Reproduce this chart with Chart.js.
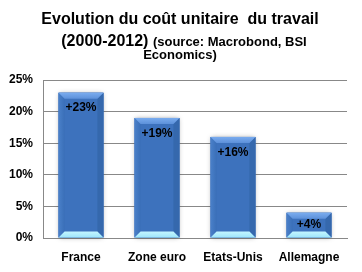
<!DOCTYPE html>
<html>
<head>
<meta charset="utf-8">
<script src="https://cdn.jsdelivr.net/npm/chart.js@4/dist/chart.umd.min.js"></script>
<style>
html,body{margin:0;padding:0;background:#fff;}
#wrap{position:relative;width:362px;height:272px;overflow:hidden;}
canvas{position:absolute;left:0;top:0;}
.t{position:absolute;left:0;width:360px;text-align:center;font-family:"Liberation Sans",Arial,sans-serif;font-weight:bold;color:#000;white-space:nowrap;}
</style>
</head>
<body>
<div id="wrap">
<canvas id="c" width="362" height="272"></canvas>
<div class="t" style="top:11px;font-size:16px;line-height:16px;">Evolution du coût unitaire&nbsp; du travail</div>
<div class="t" style="top:33px;font-size:16px;line-height:16px;left:4px;">(2000-2012) <span style="font-size:13px;">(source: Macrobond, BSI</span></div>
<div class="t" style="top:48px;font-size:13px;line-height:13px;">Economics)</div>
</div>
<script>
const categories = ["France", "Zone euro", "Etats-Unis", "Allemagne"];
const values = [23, 19, 16, 4];
const valueLabels = ["+23%", "+19%", "+16%", "+4%"];
const yTicks = [0, 5, 10, 15, 20, 25];

const FONT = '"Liberation Sans", Arial, sans-serif';

const bevelPlugin = {
  id: 'bevel',
  beforeDatasetsDraw(chart) {
    const ctx = chart.ctx;
    const meta = chart.getDatasetMeta(0);
    ctx.save();
    meta.data.forEach(el => {
      const l = el.x - el.width / 2, t = el.y, w = el.width, h = el.base - el.y;
      ctx.shadowColor = 'rgba(0,0,0,0.35)';
      ctx.shadowBlur = 5;
      ctx.fillStyle = '#3d72bd';
      ctx.fillRect(l, t, w, h);
    });
    ctx.restore();
  },
  afterDatasetsDraw(chart) {
    const ctx = chart.ctx;
    const meta = chart.getDatasetMeta(0);
    ctx.save();
    meta.data.forEach((el, i) => {
      const l = el.x - el.width / 2, r = el.x + el.width / 2, t = el.y, b = el.base;
      const bv = 6;
      const poly = (pts, col) => {
        ctx.beginPath();
        ctx.moveTo(pts[0][0], pts[0][1]);
        for (let k = 1; k < pts.length; k++) ctx.lineTo(pts[k][0], pts[k][1]);
        ctx.closePath();
        ctx.fillStyle = col;
        ctx.fill();
      };
      // left bevel
      const gl = ctx.createLinearGradient(l, 0, l + bv, 0);
      gl.addColorStop(0, '#4a80c9');
      gl.addColorStop(1, '#3a6fb8');
      poly([[l, t], [l + bv, t + bv], [l + bv, b - bv], [l, b]], gl);
      // right bevel
      poly([[r, t], [r - bv, t + bv], [r - bv, b - bv], [r, b]], '#3568ad');
      // top bevel
      const gt = ctx.createLinearGradient(0, t, 0, t + bv);
      gt.addColorStop(0, '#7aacef');
      gt.addColorStop(1, '#5d91da');
      poly([[l, t], [r, t], [r - bv, t + bv], [l + bv, t + bv]], gt);
      // bottom bevel
      const gb = ctx.createLinearGradient(0, b - bv, 0, b);
      gb.addColorStop(0, '#c4f6ff');
      gb.addColorStop(1, '#9ee6fb');
      poly([[l, b], [r, b], [r - bv, b - bv], [l + bv, b - bv]], gb);
      // label
      ctx.fillStyle = '#000';
      ctx.font = 'bold 12px ' + FONT;
      ctx.textAlign = 'center';
      ctx.textBaseline = 'middle';
      const ly = Math.min(t + 15.5, (t + b) / 2);
      ctx.fillText(valueLabels[i], el.x, ly);
    });
    ctx.restore();
  }
};

new Chart(document.getElementById('c'), {
  type: 'bar',
  data: {
    labels: categories,
    datasets: [{
      data: values,
      backgroundColor: '#3d72bd',
      borderWidth: 0,
      barPercentage: 0.59,
      categoryPercentage: 1.0
    }]
  },
  options: {
    responsive: false,
    animation: false,
    devicePixelRatio: 1,
    layout: { padding: { top: 80, right: 15, left: 0, bottom: 0 } },
    plugins: {
      legend: { display: false },
      tooltip: { enabled: false },
      title: { display: false }
    },
    scales: {
      x: {
        grid: { display: false, drawTicks: false },
        border: { display: true, color: '#888', width: 1 },
        ticks: { color: '#000', font: { family: FONT, size: 12, weight: 'bold' }, padding: 12, maxRotation: 0 },
        afterFit: s => { s.height = 34; }
      },
      y: {
        min: 0, max: 25,
        afterBuildTicks: s => { s.ticks = yTicks.map(v => ({ value: v })); },
        grid: { color: '#888', lineWidth: 1, drawTicks: false },
        border: { display: true, color: '#888', width: 1 },
        ticks: { color: '#000', font: { family: FONT, size: 12, weight: 'bold' }, padding: 10,
          callback: v => v + '%' },
        afterFit: s => { s.width = 43; }
      }
    }
  },
  plugins: [bevelPlugin]
});
</script>
</body>
</html>
